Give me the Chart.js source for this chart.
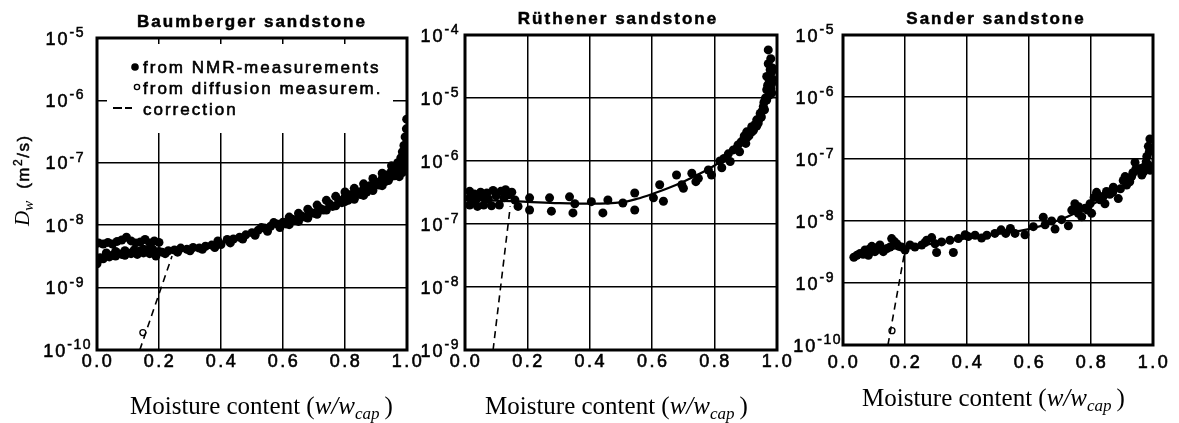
<!DOCTYPE html>
<html>
<head>
<meta charset="utf-8">
<script src="https://cdn.jsdelivr.net/npm/chart.js@4.4.1/dist/chart.umd.min.js"></script>
<style>
  html, body { margin: 0; padding: 0; background: #fff; }
  body { width: 1179px; height: 423px; position: relative; overflow: hidden; }
  canvas { position: absolute; top: 0; }
</style>
</head>
<body>
<canvas id="baum" width="430" height="423" style="left:0px"></canvas>
<canvas id="ruth" width="400" height="423" style="left:400px"></canvas>
<canvas id="sand" width="409" height="423" style="left:770px"></canvas>
<script>
// shared axis ticks
const xTicks = [0, 0.2, 0.4, 0.6, 0.8, 1.0];
const xTickLabels = ['0.0', '0.2', '0.4', '0.6', '0.8', '1.0'];
const legendLabels = ['from NMR-measurements', 'from diffusion measurem.', 'correction'];

// Baumberger sandstone
const baumDecades = [-10, -9, -8, -7, -6, -5];
const baumNmrX = [
  0.005, 0.02, 0.035, 0.05, 0.065, 0.08, 0.095, 0.11, 0.125, 0.14, 0.155, 0.17, 0.185, 0.2,
  0.0, 0.005, 0.01, 0.02, 0.03, 0.04, 0.05, 0.06, 0.07, 0.08, 0.09, 0.10, 0.11, 0.12, 0.13,
  0.14, 0.15, 0.16, 0.17, 0.18, 0.19, 0.2,
  0.03, 0.06, 0.09, 0.12, 0.15, 0.18,
  0.21, 0.23, 0.25, 0.27, 0.29, 0.31, 0.33, 0.35, 0.37, 0.39, 0.40, 0.42, 0.44, 0.46, 0.48,
  0.50, 0.52, 0.54, 0.56, 0.58, 0.60, 0.61, 0.63, 0.64, 0.66, 0.67, 0.69, 0.70, 0.72, 0.73,
  0.75, 0.76, 0.78, 0.79, 0.80, 0.81, 0.82, 0.83, 0.84, 0.85, 0.86, 0.87, 0.88, 0.89, 0.90,
  0.91, 0.92, 0.93, 0.935, 0.945, 0.95, 0.955, 0.96, 0.965, 0.97, 0.975, 0.98, 0.982, 0.985,
  0.987, 0.99, 0.992, 0.994, 0.996, 0.998, 1.0, 0.999, 0.975, 0.985, 0.995,
  0.22, 0.26, 0.30, 0.34, 0.38, 0.43, 0.47, 0.51, 0.55, 0.59, 0.62, 0.65, 0.68, 0.71, 0.74,
  0.77, 0.80, 0.83, 0.86, 0.89, 0.92, 0.94, 0.96,
  0.53, 0.57, 0.62, 0.65, 0.68, 0.71, 0.74, 0.77, 0.80, 0.83, 0.86, 0.89, 0.92, 0.95
];
const baumNmrY = [
  5.2e-9, 5.0e-9, 5.3e-9, 5.0e-9, 5.5e-9, 5.8e-9, 6.4e-9, 5.6e-9, 5.2e-9, 5.4e-9, 5.9e-9, 5.2e-9, 5.6e-9, 5.3e-9,
  2.4e-9, 2.8e-9, 3.0e-9, 2.9e-9, 3.2e-9, 3.1e-9, 3.3e-9, 3.2e-9, 3.5e-9, 3.4e-9, 3.3e-9, 3.6e-9, 3.5e-9, 3.8e-9, 3.4e-9,
  3.9e-9, 3.6e-9, 4.0e-9, 3.5e-9, 3.9e-9, 3.2e-9, 3.8e-9,
  3.6e-9, 3.8e-9, 3.9e-9, 4.0e-9, 4.1e-9, 4.1e-9,
  3.7e-9, 3.9e-9, 4.0e-9, 4.3e-9, 4.1e-9, 4.4e-9, 4.3e-9, 4.6e-9, 4.8e-9, 5.6e-9, 4.9e-9, 5.9e-9, 6.0e-9, 6.4e-9, 7.0e-9,
  7.6e-9, 8.3e-9, 9.0e-9, 9.6e-9, 1.05e-8, 1.12e-8, 1.05e-8, 1.25e-8, 1.2e-8, 1.4e-8, 1.35e-8, 1.6e-8, 1.55e-8, 1.85e-8, 1.75e-8,
  2.2e-8, 2.0e-8, 2.5e-8, 2.3e-8, 2.8e-8, 2.5e-8, 3.1e-8, 2.8e-8, 3.4e-8, 3.1e-8, 3.8e-8, 3.4e-8, 4.3e-8, 3.9e-8, 4.9e-8,
  4.4e-8, 5.6e-8, 5.0e-8, 6.4e-8, 5.8e-8, 7.4e-8, 6.5e-8, 8.5e-8, 7.3e-8, 1.0e-7, 8.2e-8, 1.2e-7, 9.5e-8, 1.5e-7,
  1.1e-7, 1.9e-7, 1.4e-7, 2.6e-7, 1.8e-7, 3.5e-7, 2.3e-7, 5.0e-7, 6.0e-8, 7.0e-8, 8.5e-8,
  3.5e-9, 3.7e-9, 3.9e-9, 4.1e-9, 4.4e-9, 5.2e-9, 6.0e-9, 6.9e-9, 8.0e-9, 9.2e-9, 1.02e-8, 1.15e-8, 1.3e-8, 1.5e-8, 1.75e-8,
  2.05e-8, 2.4e-8, 2.6e-8, 3.0e-8, 3.6e-8, 4.3e-8, 5.2e-8, 6.2e-8,
  9.2e-9, 1.1e-8, 1.35e-8, 1.55e-8, 1.8e-8, 2.1e-8, 2.5e-8, 2.9e-8, 3.4e-8, 3.9e-8, 4.6e-8, 5.6e-8, 6.8e-8, 9.0e-8
];
const baumDiffX = [0.148];
const baumDiffY = [1.9e-10];
const baumCorrX = [0.138, 0.242];
const baumCorrY = [1e-10, 3.2e-9];

// Ruethener sandstone
const ruthDecades = [-9, -8, -7, -6, -5, -4];
const ruthNmrX = [
  0.015, 0.015, 0.015, 0.03, 0.035, 0.04, 0.05, 0.055, 0.06, 0.07, 0.075, 0.085, 0.09, 0.1,
  0.11, 0.115, 0.125, 0.13, 0.14, 0.15, 0.16, 0.17,
  0.207, 0.207, 0.271, 0.277, 0.335, 0.352, 0.346, 0.405, 0.442, 0.458, 0.506, 0.544, 0.544,
  0.604, 0.624, 0.636, 0.678, 0.70, 0.695, 0.727, 0.74, 0.748, 0.78, 0.79, 0.817, 0.823, 0.83,
  0.844, 0.85, 0.871, 0.88, 0.892, 0.9, 0.903, 0.91, 0.919, 0.925, 0.935, 0.94, 0.946, 0.95,
  0.956, 0.96, 0.967, 0.967, 0.975, 0.983, 0.983, 0.967, 0.983, 0.972, 0.972, 0.985,
  0.86, 0.875, 0.885, 0.895, 0.905, 0.915, 0.92, 0.93, 0.935, 0.945, 0.952, 0.958, 0.963,
  0.97, 0.975, 0.978, 0.98, 0.985, 0.98
];
const ruthNmrY = [
  3.3e-7, 2.6e-7, 2.0e-7, 3.0e-7, 2.4e-7, 1.9e-7, 3.2e-7, 2.7e-7, 2.0e-7, 3.1e-7, 2.5e-7, 1.95e-7, 3.4e-7, 2.8e-7,
  2.0e-7, 3.3e-7, 2.6e-7, 3.5e-7, 2.9e-7, 3.2e-7, 2.4e-7, 1.9e-7,
  2.6e-7, 1.67e-7, 2.6e-7, 1.6e-7, 2.7e-7, 2.1e-7, 1.5e-7, 2.26e-7, 1.5e-7, 2.4e-7, 2.15e-7, 3.1e-7, 1.67e-7,
  2.6e-7, 4.2e-7, 2.3e-7, 6.0e-7, 3.7e-7, 4.2e-7, 6.4e-7, 4.7e-7, 5.3e-7, 7.2e-7, 6.0e-7, 1.0e-6, 7.8e-7, 1.1e-6,
  1.3e-6, 9.8e-7, 1.6e-6, 1.4e-6, 2.15e-6, 1.9e-6, 2.9e-6, 2.5e-6, 3.5e-6, 3.1e-6, 4.5e-6, 4.0e-6, 5.7e-6, 5.0e-6,
  7.3e-6, 6.5e-6, 9.3e-6, 1.35e-5, 1.1e-5, 1.2e-5, 1.7e-5, 2.2e-5, 2.6e-5, 3.5e-5, 5.8e-5, 3.0e-5,
  1.5e-6, 1.8e-6, 2.0e-6, 2.5e-6, 2.4e-6, 3.0e-6, 2.9e-6, 3.8e-6, 3.6e-6, 4.8e-6, 6.2e-6, 8.5e-6, 1.0e-5,
  1.6e-5, 1.9e-5, 2.8e-5, 4.2e-5, 2.0e-5, 1.4e-5
];
const ruthFitX = [0.0, 0.1, 0.2, 0.3, 0.4, 0.5, 0.55, 0.6, 0.65, 0.7, 0.75, 0.8, 0.85, 0.9, 0.95, 0.98];
const ruthFitY = [2.4e-7, 2.35e-7, 2.25e-7, 2.15e-7, 2.1e-7, 2.2e-7, 2.5e-7, 3.0e-7, 3.7e-7, 4.7e-7, 6.2e-7, 8.5e-7, 1.25e-6, 2.2e-6, 5.5e-6, 1.8e-5];
const ruthCorrX = [0.09, 0.145];
const ruthCorrY = [1e-9, 1.9e-7];

// Sander sandstone
const sandDecades = [-10, -9, -8, -7, -6, -5];
const sandNmrX = [
  0.035, 0.045, 0.055, 0.065, 0.071, 0.082, 0.088, 0.093, 0.103, 0.11, 0.119, 0.13, 0.142, 0.152,
  0.157, 0.165, 0.173, 0.18, 0.189, 0.2, 0.216, 0.232, 0.254, 0.265, 0.27, 0.286, 0.297, 0.302,
  0.318, 0.345, 0.356, 0.372, 0.394, 0.404, 0.426, 0.447, 0.464, 0.49, 0.51, 0.525, 0.54, 0.555,
  0.587, 0.614, 0.646, 0.652, 0.673, 0.684, 0.705, 0.727, 0.738, 0.748, 0.759, 0.77, 0.781, 0.797,
  0.802, 0.818, 0.829, 0.845, 0.861, 0.872, 0.888, 0.904, 0.915, 0.931, 0.942, 0.953, 0.964, 0.974,
  0.98, 0.985, 0.99, 0.99, 0.988,
  0.76, 0.79, 0.81, 0.84, 0.85, 0.87, 0.895, 0.91, 0.925, 0.935, 0.945, 0.96, 0.97, 0.978, 0.985
];
const sandNmrY = [
  2.6e-9, 2.8e-9, 3.0e-9, 2.9e-9, 3.4e-9, 2.8e-9, 3.6e-9, 3.9e-9, 3.2e-9, 3.7e-9, 4.1e-9, 3.2e-9, 3.6e-9, 3.8e-9,
  5.2e-9, 4.7e-9, 4.3e-9, 3.9e-9, 3.8e-9, 3.4e-9, 4.1e-9, 3.8e-9, 4.1e-9, 4.5e-9, 4.9e-9, 5.4e-9, 4.3e-9, 3.1e-9,
  4.6e-9, 4.9e-9, 3.1e-9, 5.2e-9, 6.0e-9, 5.6e-9, 5.9e-9, 5.3e-9, 5.9e-9, 6.3e-9, 7.2e-9, 6.3e-9, 7.6e-9, 6.3e-9,
  6.0e-9, 8.1e-9, 1.15e-8, 8.7e-9, 1.0e-8, 7.4e-9, 1.05e-8, 8.4e-9, 1.5e-8, 1.9e-8, 1.33e-8, 1.17e-8, 1.6e-8, 1.9e-8,
  1.33e-8, 2.9e-8, 2.2e-8, 1.9e-8, 2.7e-8, 3.5e-8, 2.3e-8, 4.5e-8, 3.8e-8, 5.2e-8, 8.8e-8, 6.6e-8, 5.5e-8, 7.6e-8,
  1.1e-7, 1.6e-7, 2.1e-7, 6.6e-8, 1.3e-7,
  1.7e-8, 1.5e-8, 2.4e-8, 2.5e-8, 3.0e-8, 2.9e-8, 3.3e-8, 5.2e-8, 4.3e-8, 6.0e-8, 7.0e-8, 7.0e-8, 6.2e-8, 9.0e-8, 8.0e-8
];
const sandFitX = [0.03, 0.1, 0.2, 0.3, 0.4, 0.5, 0.6, 0.7, 0.8, 0.9, 0.95, 0.98];
const sandFitY = [2.7e-9, 3.2e-9, 3.8e-9, 4.4e-9, 5.3e-9, 6.2e-9, 7.4e-9, 1.05e-8, 1.8e-8, 3.6e-8, 6.0e-8, 1.0e-7];
const sandDiffX = [0.158];
const sandDiffY = [1.7e-10];
const sandCorrX = [0.145, 0.2];
const sandCorrY = [1e-10, 3.4e-9];

const SANS = '"Liberation Sans", Arial, sans-serif';
const SERIF = '"Liberation Serif", "Times New Roman", serif';

function toPoints(xs, ys) {
  return xs.map((x, i) => ({ x: x, y: ys[i] }));
}

// fill plus a thin stroke, the printed labels are a bit heavier than the plain face
function ink(ctx, text, x, y, weight) {
  ctx.fillText(text, x, y);
  ctx.lineWidth = weight;
  ctx.strokeText(text, x, y);
}

// frame, legend box, tick labels and titles drawn on top of the chart's own scales
const panelDecor = {
  id: 'panelDecor',
  beforeDatasetsDraw(chart, args, opts) {
    const ctx = chart.ctx;
    const a = chart.chartArea;
    ctx.save();
    ctx.fillStyle = '#000';
    ctx.strokeStyle = '#000';
    if (opts.legend) {
      ctx.fillStyle = '#fff';
      ctx.fillRect(a.left + 10, a.top + 6, a.right - a.left - 24, 89);
      ctx.fillStyle = '#000';
      ctx.font = '17px ' + SANS;
      ctx.letterSpacing = '2px';
      ctx.textBaseline = 'alphabetic';
      ctx.textAlign = 'left';
      const tx = a.left + 46;
      ctx.beginPath();
      ctx.arc(a.left + 38, a.top + 29, 3.8, 0, Math.PI * 2);
      ctx.fill();
      ink(ctx, legendLabels[0], tx, a.top + 35, 0.6);
      ctx.beginPath();
      ctx.arc(a.left + 40, a.top + 49, 2.6, 0, Math.PI * 2);
      ctx.lineWidth = 1.4;
      ctx.stroke();
      ink(ctx, legendLabels[1], tx, a.top + 56, 0.6);
      ctx.beginPath();
      ctx.lineWidth = 2;
      ctx.moveTo(a.left + 16, a.top + 70); ctx.lineTo(a.left + 25, a.top + 70);
      ctx.moveTo(a.left + 28, a.top + 70); ctx.lineTo(a.left + 35, a.top + 70);
      ctx.stroke();
      ink(ctx, legendLabels[2], tx, a.top + 77, 0.6);
    }
    ctx.lineWidth = 3;
    ctx.strokeRect(a.left, a.top, a.right - a.left, a.bottom - a.top);
    ctx.restore();
  },
  afterDraw(chart, args, opts) {
    const ctx = chart.ctx;
    const a = chart.chartArea;
    const xs = chart.scales.x;
    const ys = chart.scales.y;
    ctx.save();
    ctx.fillStyle = '#000';
    ctx.strokeStyle = '#000';

    // x tick labels
    ctx.font = '18px ' + SANS;
    ctx.letterSpacing = '2.5px';
    ctx.textAlign = 'center';
    ctx.textBaseline = 'alphabetic';
    xTicks.forEach((v, i) => {
      ink(ctx, xTickLabels[i], xs.getPixelForValue(v) + 1, a.bottom + opts.xLabelGap, 0.6);
    });

    // y tick labels as powers of ten
    ctx.textAlign = 'left';
    opts.decades.forEach(e => {
      const py = ys.getPixelForValue(Math.pow(10, e));
      const exp = String(e);
      ctx.font = '18px ' + SANS;
      ctx.letterSpacing = '2px';
      const wBase = ctx.measureText('10').width;
      ctx.font = '14px ' + SANS;
      ctx.letterSpacing = '1.5px';
      const wExp = ctx.measureText(exp).width;
      const gap = exp.length > 2 ? opts.yLabelGap - 7 : opts.yLabelGap;
      const x0 = a.left - gap - wBase - wExp;
      ctx.font = '18px ' + SANS;
      ctx.letterSpacing = '2px';
      ink(ctx, '10', x0, py + 6.5, 0.6);
      ctx.font = '14px ' + SANS;
      ctx.letterSpacing = '1.5px';
      ink(ctx, exp, x0 + wBase, py - 1, 0.5);
    });

    // panel title
    ctx.font = 'bold 17px ' + SANS;
    ctx.letterSpacing = '2px';
    ctx.textAlign = 'center';
    ink(ctx, opts.title, (a.left + a.right) / 2 + opts.titleShift, a.top - 11, 0.5);

    // x axis title: Moisture content (w/w_cap)
    ctx.letterSpacing = '0px';
    ctx.textAlign = 'left';
    let cx = a.left + opts.xTitleStart;
    const by = a.bottom + opts.xTitleGap;
    ctx.font = '25px ' + SERIF;
    ctx.fillText('Moisture content (', cx, by);
    cx += ctx.measureText('Moisture content (').width;
    ctx.font = 'italic 25px ' + SERIF;
    ctx.fillText('w/w', cx, by);
    cx += ctx.measureText('w/w').width;
    ctx.font = 'italic 17px ' + SERIF;
    ctx.fillText('cap', cx, by + 5);
    cx += ctx.measureText('cap').width + 5;
    ctx.font = '25px ' + SERIF;
    ctx.fillText(')', cx, by);

    // y axis title, rotated
    if (opts.yTitle) {
      ctx.translate(29, 226);
      ctx.rotate(-Math.PI / 2);
      let tx = 0;
      ctx.font = 'italic 21px ' + SERIF;
      ctx.fillText('D', tx, 0);
      tx += ctx.measureText('D').width;
      ctx.font = 'italic 15px ' + SERIF;
      ctx.fillText('w', tx, 4);
      tx += ctx.measureText('w').width + 12;
      ctx.font = '17px ' + SANS;
      ctx.letterSpacing = '1.5px';
      ink(ctx, '(m', tx, 0, 0.5);
      tx += ctx.measureText('(m').width;
      ctx.font = '12px ' + SANS;
      ink(ctx, '2', tx, -7, 0.4);
      tx += ctx.measureText('2').width;
      ctx.font = '17px ' + SANS;
      ink(ctx, '/s)', tx, 0, 0.5);
    }
    ctx.restore();
  }
};

function makePanel(id, p) {
  const datasets = [];
  datasets.push({
    data: toPoints(p.corrX, p.corrY),
    showLine: true,
    borderColor: '#000',
    borderWidth: 1.6,
    borderDash: [7, 5],
    pointRadius: 0
  });
  if (p.fitX) {
    datasets.push({
      data: toPoints(p.fitX, p.fitY),
      showLine: true,
      borderColor: '#000',
      borderWidth: 2.2,
      cubicInterpolationMode: 'monotone',
      pointRadius: 0
    });
  }
  if (p.diffX) {
    datasets.push({
      data: toPoints(p.diffX, p.diffY),
      pointRadius: 3,
      pointBackgroundColor: '#fff',
      pointBorderColor: '#000',
      pointBorderWidth: 1.3
    });
  }
  datasets.push({
    data: toPoints(p.nmrX, p.nmrY),
    pointRadius: 4.5,
    pointBackgroundColor: '#000',
    pointBorderWidth: 0
  });

  const gridStyle = { color: '#000', lineWidth: 1.5, drawTicks: false };
  return new Chart(document.getElementById(id), {
    type: 'scatter',
    data: { datasets: datasets },
    options: {
      responsive: false,
      animation: false,
      events: [],
      layout: { autoPadding: false, padding: p.padding },
      scales: {
        x: {
          type: 'linear', min: 0, max: 1,
          afterBuildTicks: s => { s.ticks = xTicks.map(v => ({ value: v })); },
          ticks: { display: false },
          grid: gridStyle,
          border: { display: false }
        },
        y: {
          type: 'logarithmic',
          min: Math.pow(10, p.decades[0]),
          max: Math.pow(10, p.decades[p.decades.length - 1]),
          afterBuildTicks: s => { s.ticks = p.decades.map(e => ({ value: Math.pow(10, e) })); },
          ticks: { display: false },
          grid: gridStyle,
          border: { display: false }
        }
      },
      plugins: {
        legend: { display: false },
        tooltip: { enabled: false },
        panelDecor: {
          title: p.title,
          titleShift: p.titleShift,
          decades: p.decades,
          legend: p.legend,
          yTitle: p.yTitle,
          xLabelGap: p.xLabelGap,
          yLabelGap: p.yLabelGap,
          xTitleStart: p.xTitleStart,
          xTitleGap: p.xTitleGap
        }
      }
    },
    plugins: [panelDecor]
  });
}

makePanel('baum', {
  title: 'Baumberger sandstone', titleShift: 0, decades: baumDecades,
  nmrX: baumNmrX, nmrY: baumNmrY, diffX: baumDiffX, diffY: baumDiffY,
  corrX: baumCorrX, corrY: baumCorrY,
  padding: { left: 97, right: 23, top: 38, bottom: 73 },
  legend: true, yTitle: true,
  xLabelGap: 17, yLabelGap: 12, xTitleStart: 33, xTitleGap: 64
});

makePanel('ruth', {
  title: 'Rüthener sandstone', titleShift: -3, decades: ruthDecades,
  nmrX: ruthNmrX, nmrY: ruthNmrY, fitX: ruthFitX, fitY: ruthFitY,
  corrX: ruthCorrX, corrY: ruthCorrY,
  padding: { left: 65, right: 23, top: 35, bottom: 73 },
  legend: false, yTitle: false,
  xLabelGap: 17, yLabelGap: 5, xTitleStart: 20, xTitleGap: 64
});

makePanel('sand', {
  title: 'Sander sandstone', titleShift: -2, decades: sandDecades,
  nmrX: sandNmrX, nmrY: sandNmrY, fitX: sandFitX, fitY: sandFitY,
  diffX: sandDiffX, diffY: sandDiffY,
  corrX: sandCorrX, corrY: sandCorrY,
  padding: { left: 73, right: 26, top: 35, bottom: 78 },
  legend: false, yTitle: false,
  xLabelGap: 23, yLabelGap: 8, xTitleStart: 19, xTitleGap: 61
});
</script>
</body>
</html>
